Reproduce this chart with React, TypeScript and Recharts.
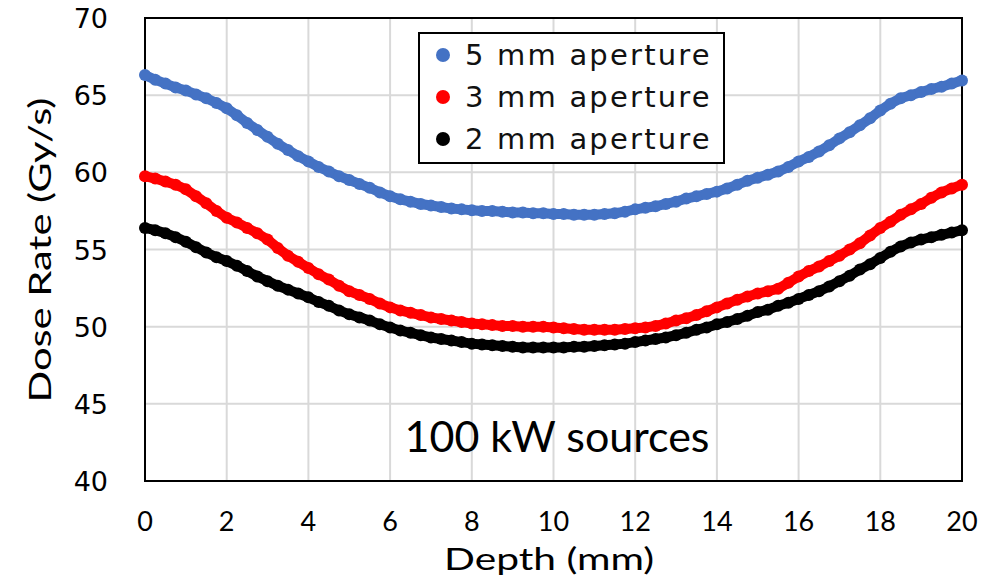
import React from 'react';
import { LineChart, Line, XAxis, YAxis, CartesianGrid, Legend, ReferenceArea, Customized } from 'recharts';

const aperture5mm = [
  66.3, 66.0, 65.75, 65.5, 65.3, 65.05, 64.8, 64.5, 64.15, 63.7,
  63.2, 62.75, 62.3, 61.85, 61.45, 61.05, 60.7, 60.35, 60.05, 59.75,
  59.5, 59.25, 59.0, 58.7, 58.45, 58.25, 58.1, 57.95, 57.85, 57.75,
  57.65, 57.6, 57.55, 57.5, 57.5, 57.45, 57.4, 57.4, 57.35, 57.35,
  57.3, 57.3, 57.25, 57.25, 57.25, 57.3, 57.35, 57.45, 57.6, 57.7,
  57.8, 57.95, 58.1, 58.3, 58.45, 58.6, 58.75, 58.95, 59.2, 59.45,
  59.65, 59.85, 60.05, 60.35, 60.7, 61.0, 61.35, 61.75, 62.2, 62.6,
  63.05, 63.5, 64.0, 64.45, 64.8, 65.0, 65.2, 65.4, 65.55, 65.75,
  65.95,
];

const aperture3mm = [
  59.75, 59.6, 59.4, 59.2, 58.9, 58.45, 58.0, 57.5, 57.05, 56.75,
  56.4, 56.05, 55.65, 55.1, 54.6, 54.2, 53.8, 53.4, 53.05, 52.65,
  52.3, 52.05, 51.8, 51.5, 51.25, 51.05, 50.9, 50.75, 50.6, 50.5,
  50.4, 50.3, 50.2, 50.15, 50.1, 50.05, 50.05, 50.0, 50.0, 50.0,
  49.95, 49.9, 49.85, 49.8, 49.8, 49.8, 49.8, 49.85, 49.9, 49.95,
  50.05, 50.2, 50.4, 50.55, 50.75, 51.0, 51.25, 51.5, 51.75, 51.95,
  52.15, 52.3, 52.45, 52.85, 53.25, 53.6, 53.9, 54.25, 54.6, 55.0,
  55.4, 55.9, 56.4, 56.8, 57.25, 57.6, 57.95, 58.35, 58.7, 58.95,
  59.2,
];

const aperture2mm = [
  56.4, 56.25, 56.05, 55.8, 55.5, 55.15, 54.8, 54.5, 54.25, 53.95,
  53.6, 53.25, 52.95, 52.65, 52.4, 52.15, 51.9, 51.6, 51.35, 51.05,
  50.8, 50.6, 50.4, 50.15, 49.95, 49.75, 49.6, 49.45, 49.3, 49.2,
  49.1, 49.0, 48.9, 48.85, 48.8, 48.75, 48.7, 48.65, 48.65, 48.65,
  48.65, 48.65, 48.7, 48.7, 48.75, 48.8, 48.85, 48.9, 49.0, 49.1,
  49.2, 49.3, 49.45, 49.6, 49.8, 49.95, 50.15, 50.3, 50.5, 50.7,
  50.95, 51.1, 51.35, 51.55, 51.8, 52.05, 52.3, 52.6, 52.95, 53.3,
  53.7, 54.05, 54.45, 54.85, 55.2, 55.45, 55.65, 55.8, 55.95, 56.1,
  56.25,
];

const depth = aperture5mm.map((_, i) => i * 0.25);

const xTicks = [0, 2, 4, 6, 8, 10, 12, 14, 16, 18, 20];
const yTicks = [40, 45, 50, 55, 60, 65, 70];
const legendOrder = ['5 mm aperture', '3 mm aperture', '2 mm aperture'];

const data = depth.map((d, i) => ({
  depth: d,
  a5: aperture5mm[i],
  a3: aperture3mm[i],
  a2: aperture2mm[i],
}));

const XTick = ({ x, y, payload }: any) => (
  <text x={x} y={y + 50} textAnchor="middle" fontFamily="Lato" fontSize={27} fill="#000">
    {payload.value}
  </text>
);

const YTick = ({ x, y, payload }: any) => (
  <text x={x - 37} y={y + 10} textAnchor="end" fontFamily="DejaVu Sans" fontSize={27} fill="#000">
    {payload.value}
  </text>
);

const renderLegend = ({ payload }: any) => {
  const items = legendOrder.map((name) => payload.find((p: any) => p.value === name)).filter(Boolean);
  return (
    <div
      style={{
        boxSizing: 'border-box',
        width: 307,
        height: 132,
        border: '2px solid #000',
        background: '#fff',
        fontFamily: 'DejaVu Sans',
        fontSize: 29,
        letterSpacing: '2.2px',
        lineHeight: '42px',
        color: '#111',
      }}
    >
      {items.map((entry: any) => (
        <div key={entry.value} style={{ display: 'flex', alignItems: 'center', height: 42 }}>
          <span
            style={{
              display: 'inline-block',
              width: 14,
              height: 14,
              borderRadius: 7,
              background: entry.color,
              marginLeft: 16,
              marginRight: 15,
            }}
          />
          <span style={{ whiteSpace: 'nowrap' }}>{entry.value}</span>
        </div>
      ))}
    </div>
  );
};

const Texts = () => (
  <g>
    <text x={557} y={452} textAnchor="middle" fontFamily="Lato" fontSize={43} fill="#000">
      100 kW sources
    </text>
    <text
      x={549}
      y={570}
      textAnchor="middle"
      fontFamily="Lato"
      fontSize={31}
      textLength={210}
      lengthAdjust="spacingAndGlyphs"
      fill="#000"
    >
      Depth (mm)
    </text>
    <text
      transform="translate(51, 250) rotate(-90)"
      textAnchor="middle"
      fontFamily="Lato"
      fontSize={31}
      textLength={305}
      lengthAdjust="spacingAndGlyphs"
      fill="#000"
    >
      Dose Rate (Gy/s)
    </text>
  </g>
);

export default function App() {
  return (
    <div style={{ position: 'absolute', left: 0, top: 0, background: '#fff' }}>
      <LineChart width={996} height={577} data={data} margin={{ top: 18, right: 34, bottom: 0, left: 0 }}>
        <CartesianGrid stroke="#d9d9d9" strokeWidth={2} />
        <XAxis
          dataKey="depth"
          type="number"
          domain={[0, 20]}
          ticks={xTicks}
          interval={0}
          height={96}
          tickLine={false}
          axisLine={false}
          tickSize={0}
          tickMargin={0}
          tick={XTick}
        />
        <YAxis
          type="number"
          domain={[40, 70]}
          ticks={yTicks}
          interval={0}
          width={145}
          tickLine={false}
          axisLine={false}
          tickSize={0}
          tickMargin={0}
          tick={YTick}
        />
        <Legend
          layout="vertical"
          align="center"
          verticalAlign="middle"
          content={renderLegend}
          wrapperStyle={{ left: 418, top: 32, width: 307, height: 132 }}
        />
        <Line
          dataKey="a5"
          name="5 mm aperture"
          stroke="#4472C4"
          strokeWidth={10}
          dot={{ r: 6, fill: '#4472C4', stroke: 'none' }}
          isAnimationActive={false}
        />
        <Line
          dataKey="a3"
          name="3 mm aperture"
          stroke="#FF0000"
          strokeWidth={10}
          dot={{ r: 6, fill: '#FF0000', stroke: 'none' }}
          isAnimationActive={false}
        />
        <Line
          dataKey="a2"
          name="2 mm aperture"
          stroke="#000000"
          strokeWidth={10}
          dot={{ r: 6, fill: '#000000', stroke: 'none' }}
          isAnimationActive={false}
        />
        <ReferenceArea x1={0} x2={20} y1={40} y2={70} fill="none" stroke="#000" strokeWidth={2} ifOverflow="visible" />
        <Customized component={Texts} />
      </LineChart>
    </div>
  );
}
